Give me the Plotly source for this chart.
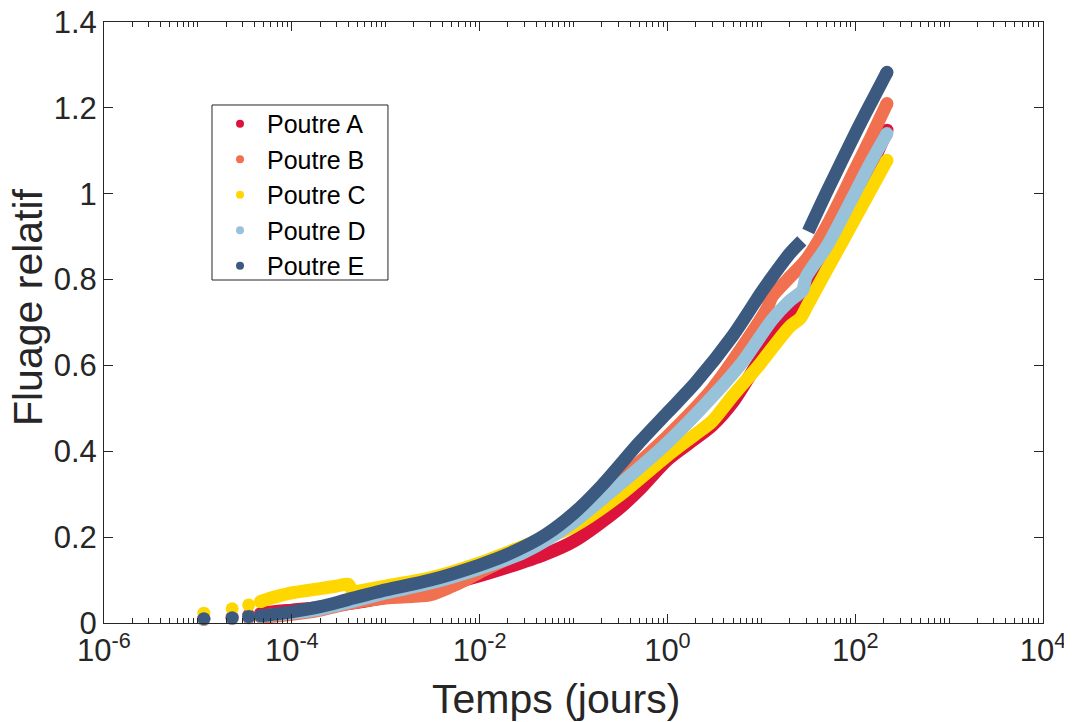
import plotly.graph_objects as go

# ---- data (time in days, relative creep) ----
names = ["Poutre A", "Poutre B", "Poutre C", "Poutre D", "Poutre E"]
colors = ["#DC143C", "#F0704F", "#FFD700", "#98C1DA", "#3C5A80"]

t_A = [1.157e-5, 2.315e-5, 3.472e-5, 4.63e-5, 5.79e-5, 1e-4, 2e-4, 4e-4, 1e-3, 3e-3,
       1e-2, 2e-2, 5e-2, 0.1, 0.3, 0.5, 1, 2, 3, 5, 10, 19, 30, 50, 100, 150, 218]
y_A = [0.011, 0.014, 0.018, 0.022, 0.025, 0.030, 0.036, 0.045, 0.060, 0.080,
       0.110, 0.130, 0.160, 0.190, 0.265, 0.310, 0.380, 0.430, 0.460, 0.515, 0.620, 0.715, 0.780, 0.860, 0.975, 1.065, 1.148]

t_B = [1.157e-5, 2.315e-5, 3.472e-5, 4.63e-5, 5.79e-5, 1e-4, 2e-4, 4e-4, 1e-3, 2e-3, 3e-3,
       5e-3, 7e-3, 1e-2, 2e-2, 5e-2, 0.1, 0.3, 1, 3, 10, 11.7, 13, 19, 30, 50, 100, 150, 218]
y_B = [0.008, 0.010, 0.012, 0.014, 0.015, 0.020, 0.030, 0.045, 0.058, 0.062, 0.066,
       0.085, 0.100, 0.118, 0.150, 0.195, 0.235, 0.330, 0.435, 0.545, 0.710, 0.736, 0.760, 0.800, 0.846, 0.925, 1.057, 1.135, 1.210]

t_C = [1.157e-5, 2.315e-5, 3.472e-5, 4.63e-5, 5.79e-5, 7e-5, 1e-4, 2e-4, 3e-4, 4e-4, 4.4e-4,
       5e-4, 1e-3, 3e-3, 1e-2, 3e-2, 0.1, 0.3, 1, 2, 3, 5, 8.6, 9.8, 20, 26, 31, 50, 100, 150, 218]
y_C = [0.023, 0.033, 0.042, 0.050, 0.057, 0.062, 0.070, 0.080, 0.086, 0.090, 0.075,
       0.074, 0.086, 0.105, 0.140, 0.180, 0.225, 0.295, 0.390, 0.440, 0.470, 0.530, 0.590, 0.605, 0.690, 0.710, 0.740, 0.823, 0.943, 1.013, 1.078]

t_D = [1.157e-5, 2.315e-5, 3.472e-5, 4.63e-5, 5.79e-5, 1e-4, 2e-4, 4e-4, 1e-3, 3e-3,
       1e-2, 3e-2, 0.1, 0.3, 1, 3, 6.4, 13, 20, 27.5, 30, 50, 100, 150, 218]
y_D = [0.009, 0.011, 0.014, 0.016, 0.018, 0.023, 0.032, 0.048, 0.070, 0.093,
       0.127, 0.165, 0.235, 0.320, 0.420, 0.527, 0.610, 0.706, 0.750, 0.775, 0.806, 0.878, 1.003, 1.077, 1.140]

t_E = [1.157e-5, 2.315e-5, 3.472e-5, 4.63e-5, 5.79e-5, 1e-4, 2e-4, 4e-4, 1e-3, 3e-3,
       1e-2, 2e-2, 5e-2, 0.1, 0.2, 0.5, 1, 2, 5, 10, 12, 20, 27, 29, 31.6, 50, 100, 150, 218]
y_E = [0.010, 0.012, 0.015, 0.017, 0.019, 0.026, 0.038, 0.055, 0.077, 0.100,
       0.135, 0.160, 0.205, 0.255, 0.320, 0.420, 0.490, 0.560, 0.670, 0.770, 0.795, 0.860, 0.890, None, 0.912, 1.005, 1.140, 1.215, 1.283]

series_t = [t_A, t_B, t_C, t_D, t_E]
series_y = [y_A, y_B, y_C, y_D, y_E]

x_tickvals = [1e-6, 1e-4, 1e-2, 1e0, 1e2, 1e4]
x_ticktext = ["10<sup>-6</sup>", "10<sup>-4</sup>", "10<sup>-2</sup>", "10<sup>0</sup>",
              "10<sup>2</sup>", "10<sup>4</sup>"]
y_tickvals = [0, 0.2, 0.4, 0.6, 0.8, 1.0, 1.2, 1.4]
y_ticktext = ["0", "0.2", "0.4", "0.6", "0.8", "1", "1.2", "1.4"]

minor_vals = [m * 10 ** e for e in range(-6, 4) for m in range(1, 10) if not (m == 1 and e % 2 == 0)]

MS = 13
fig = go.Figure()
for name, col, tt, yy in zip(names, colors, series_t, series_y):
    n0 = 3
    fig.add_trace(go.Scatter(x=tt[:n0], y=yy[:n0], mode="markers",
                             marker=dict(size=MS, color=col), showlegend=False,
                             cliponaxis=False, hoverinfo="skip"))
    fig.add_trace(go.Scatter(x=tt[n0:], y=yy[n0:], mode="lines",
                             line=dict(color=col, width=MS, shape="spline", smoothing=0.8),
                             connectgaps=False, showlegend=False, cliponaxis=False,
                             hoverinfo="skip"))
    fig.add_trace(go.Scatter(x=[tt[n0], tt[-1]], y=[yy[n0], yy[-1]], mode="markers",
                             marker=dict(size=MS, color=col), showlegend=False,
                             cliponaxis=False, hoverinfo="skip"))
# legend-only entries
for name, col in zip(names, colors):
    fig.add_trace(go.Scatter(x=[None], y=[None], mode="markers", name=name,
                             marker=dict(size=8, color=col)))

axcol = "#262626"
font_fam = "Liberation Sans, Arial, Helvetica, sans-serif"

# legend frame (reference box in paper coordinates)
fig.add_shape(type="rect", xref="paper", yref="paper",
              x0=0.1150, x1=0.3024, y0=0.5707, y1=0.8619,
              line=dict(color=axcol, width=1), fillcolor="white", layer="above")

# axis titles
fig.add_annotation(text="Temps (jours)", xref="paper", yref="paper", x=0.481, y=-0.1265,
                   xanchor="center", yanchor="middle", showarrow=False,
                   font=dict(size=41, color=axcol, family=font_fam))
fig.add_annotation(text="Fluage relatif", xref="paper", yref="paper", x=-0.0809, y=0.5258,
                   xanchor="center", yanchor="middle", textangle=-90, showarrow=False,
                   font=dict(size=41, color=axcol, family=font_fam))

fig.update_layout(
    width=1064, height=714,
    margin=dict(l=96, r=29, t=14, b=99),
    paper_bgcolor="white", plot_bgcolor="white",
    font=dict(family=font_fam, size=26, color=axcol),
    showlegend=True,
    legend=dict(x=0.1161, y=0.8686, xanchor="left", yanchor="top",
                bgcolor="rgba(0,0,0,0)", borderwidth=0,
                font=dict(size=25, color="black"),
                itemwidth=44),
    xaxis=dict(type="log", range=[-6, 4], tickvals=x_tickvals, ticktext=x_ticktext,
               showline=True, linecolor=axcol, linewidth=1, mirror="ticks",
               ticks="inside", ticklen=9, tickcolor=axcol, showgrid=False, zeroline=False,
               automargin=False, ticklabeloverflow="allow",
               tickfont=dict(size=31, color=axcol),
               minor=dict(tickvals=minor_vals, ticks="inside", ticklen=5, tickcolor=axcol, showgrid=False)),
    yaxis=dict(range=[0, 1.4], tickvals=y_tickvals, ticktext=y_ticktext,
               showline=True, linecolor=axcol, linewidth=1, mirror="ticks",
               ticks="inside", ticklen=9, tickcolor=axcol, showgrid=False, zeroline=False,
               automargin=False, ticklabeloverflow="allow",
               tickfont=dict(size=31, color=axcol)),
)

fig.write_html("out.html")
